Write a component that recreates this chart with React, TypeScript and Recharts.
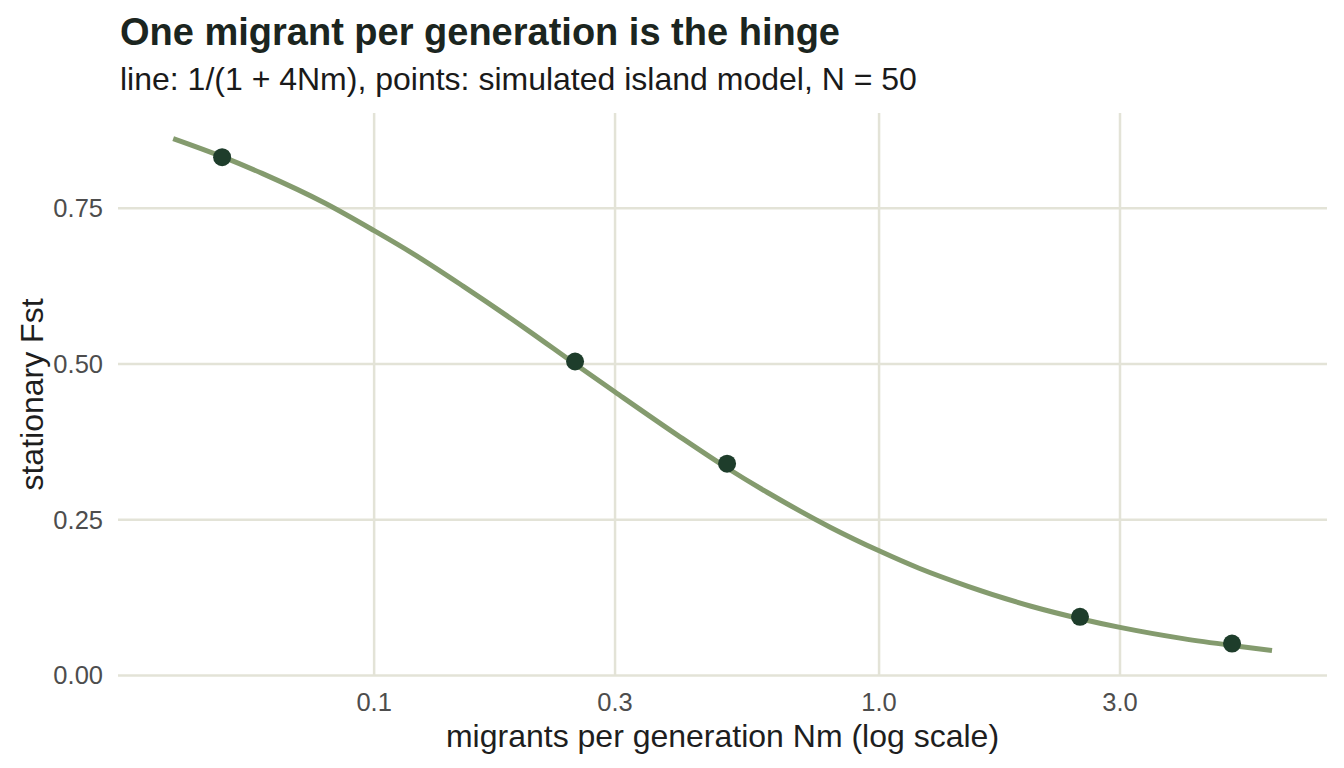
import React from 'react'
import {
  ComposedChart,
  Line,
  Scatter,
  XAxis,
  YAxis,
  CartesianGrid,
} from 'recharts'

// theoretical curve: Fst against Nm
const curveNm = [
  0.04, 0.05, 0.06, 0.08, 0.1, 0.12, 0.15, 0.2, 0.25, 0.3, 0.4, 0.5, 0.6, 0.8,
  1.0, 1.2, 1.5, 2.0, 2.5, 3.0, 4.0, 5.0, 6.0,
]
const curveFst = [
  0.862, 0.833, 0.806, 0.758, 0.714, 0.676, 0.625, 0.556, 0.5, 0.455, 0.385,
  0.333, 0.294, 0.238, 0.2, 0.172, 0.143, 0.111, 0.091, 0.077, 0.059, 0.048,
  0.04,
]

// simulated island model runs
const simNm = [0.05, 0.25, 0.5, 2.5, 5.0]
const simFst = [0.832, 0.504, 0.34, 0.094, 0.051]

const xTicks = [0.1, 0.3, 1, 3]
const xTickLabels = ['0.1', '0.3', '1.0', '3.0']
const yTicks = [0, 0.25, 0.5, 0.75]
const yTickLabels = ['0.00', '0.25', '0.50', '0.75']

const curveData = curveNm.map((nm, i) => ({ nm, fst: curveFst[i] }))
const simData = simNm.map((nm, i) => ({ nm, fst: simFst[i] }))

const FONT = '"Liberation Sans", Arial, Helvetica, sans-serif'
const W = 1344
const H = 768

const tickStyle = { fontSize: 25.5, fill: '#4d4d4d', fontFamily: FONT }

export default function App() {
  return (
    <div style={{ position: 'absolute', left: 0, top: 0, width: W, height: H, background: '#fff' }}>
      <ComposedChart
        width={W}
        height={H}
        margin={{ top: 113, right: 17, bottom: 62, left: 58 }}
      >
        {/* only the tick lines, no panel border */}
        <CartesianGrid stroke="#e3e3d7" strokeWidth={2.5} syncWithTicks />
        <XAxis
          dataKey="nm"
          type="number"
          scale="log"
          domain={[0.0311, 7.71]}
          allowDataOverflow
          ticks={xTicks}
          tickFormatter={(v) => xTickLabels[xTicks.indexOf(v)] ?? String(v)}
          tick={tickStyle}
          tickLine={false}
          axisLine={false}
          tickSize={0}
          tickMargin={17}
          height={30}
        />
        <YAxis
          dataKey="fst"
          type="number"
          domain={[-0.001, 0.903]}
          allowDataOverflow
          ticks={yTicks}
          tickFormatter={(v) => yTickLabels[yTicks.indexOf(v)] ?? String(v)}
          tick={tickStyle}
          tickLine={false}
          axisLine={false}
          tickSize={0}
          tickMargin={15}
          width={60}
        />
        <Line
          data={curveData}
          dataKey="fst"
          type="monotone"
          stroke="#849b6e"
          strokeWidth={5}
          dot={false}
          activeDot={false}
          isAnimationActive={false}
        />
        <Scatter
          data={simData}
          fill="#1e3d2b"
          isAnimationActive={false}
          shape={(p: any) => <circle cx={p.cx} cy={p.cy} r={9} fill="#1e3d2b" />}
        />
      </ComposedChart>
      <svg
        width={W}
        height={H}
        style={{ position: 'absolute', left: 0, top: 0, pointerEvents: 'none' }}
        fontFamily={FONT}
      >
        <text x={120} y={45} fontSize={38} fontWeight="bold" fill="#1b2520">
          One migrant per generation is the hinge
        </text>
        <text x={120} y={90} fontSize={32} fill="#1a1a1a">
          line: 1/(1 + 4Nm), points: simulated island model, N = 50
        </text>
        <text x={722.5} y={747} fontSize={32} fill="#1e1e1e" textAnchor="middle">
          migrants per generation Nm (log scale)
        </text>
        <text
          x={0}
          y={0}
          fontSize={32}
          fill="#1e1e1e"
          textAnchor="middle"
          transform="translate(43 394.5) rotate(-90)"
        >
          stationary Fst
        </text>
      </svg>
    </div>
  )
}
